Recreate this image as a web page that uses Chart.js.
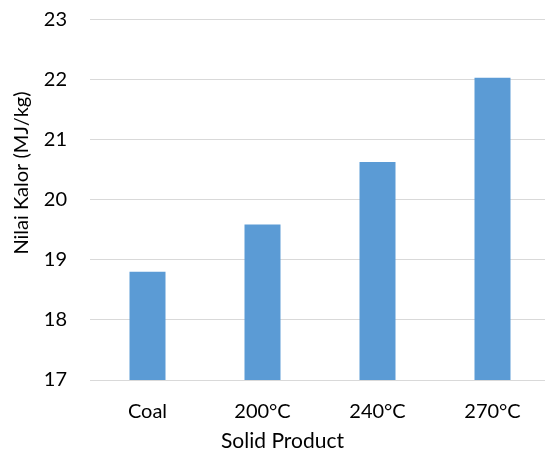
<!DOCTYPE html>
<html>
<head>
<meta charset="utf-8">
<script src="https://cdn.jsdelivr.net/npm/chart.js@4.4.1/dist/chart.umd.min.js"></script>
<style>
html,body{margin:0;padding:0;overflow:hidden;background:#fff;}
#wrap{width:552px;height:452px;position:relative;}
</style>
</head>
<body>
<div id="wrap"><canvas id="c"></canvas></div>
<script>
const categories = ["Coal", "200°C", "240°C", "270°C"];
const heatingValues = [18.8, 19.59, 20.63, 22.03];
const yTitle = "Nilai Kalor (MJ/kg)";
const xTitle = "Solid Product";
const yMin = 17, yMax = 23, yStep = 1;

const FONT = "Lato, 'Open Sans', sans-serif";

const titlePlugin = {
  id: 'titles',
  afterDraw(chart) {
    const ctx = chart.ctx;
    ctx.save();
    ctx.fillStyle = '#000';
    ctx.textAlign = 'center';
    ctx.textBaseline = 'middle';
    ctx.font = "21px " + FONT;
    ctx.fillText(xTitle, 282.5, 441);
    ctx.font = "20px " + FONT;
    ctx.translate(22, 173);
    ctx.rotate(-Math.PI / 2);
    ctx.fillText(yTitle, 0, 0);
    ctx.restore();
  }
};

new Chart(document.getElementById('c'), {
  type: 'bar',
  data: {
    labels: categories,
    datasets: [{
      data: heatingValues,
      backgroundColor: '#5b9bd5',
      borderWidth: 0,
      barPercentage: 0.313,
      categoryPercentage: 1.0
    }]
  },
  options: {
    responsive: true,
    maintainAspectRatio: false,
    animation: false,
    layout: { padding: { top: 19.5, right: 2, left: 0, bottom: 0 } },
    plugins: { legend: { display: false }, tooltip: { enabled: false } },
    scales: {
      x: {
        grid: { display: false, drawTicks: false },
        border: { display: true, color: '#d9d9d9', width: 1 },
        ticks: { color: '#000', font: { family: FONT, size: 20 }, padding: 20, maxRotation: 0 },
        afterFit(s) { s.height = 72; s.paddingLeft = 0; s.paddingRight = 0; }
      },
      y: {
        min: yMin, max: yMax,
        grid: { color: '#d9d9d9', lineWidth: 1, drawTicks: false },
        border: { display: false },
        ticks: { stepSize: yStep, color: '#000', font: { family: FONT, size: 20 }, padding: 23 },
        afterFit(s) { s.width = 90; s.paddingTop = 0; s.paddingBottom = 0; }
      }
    }
  },
  plugins: [titlePlugin]
});
</script>
</body>
</html>
